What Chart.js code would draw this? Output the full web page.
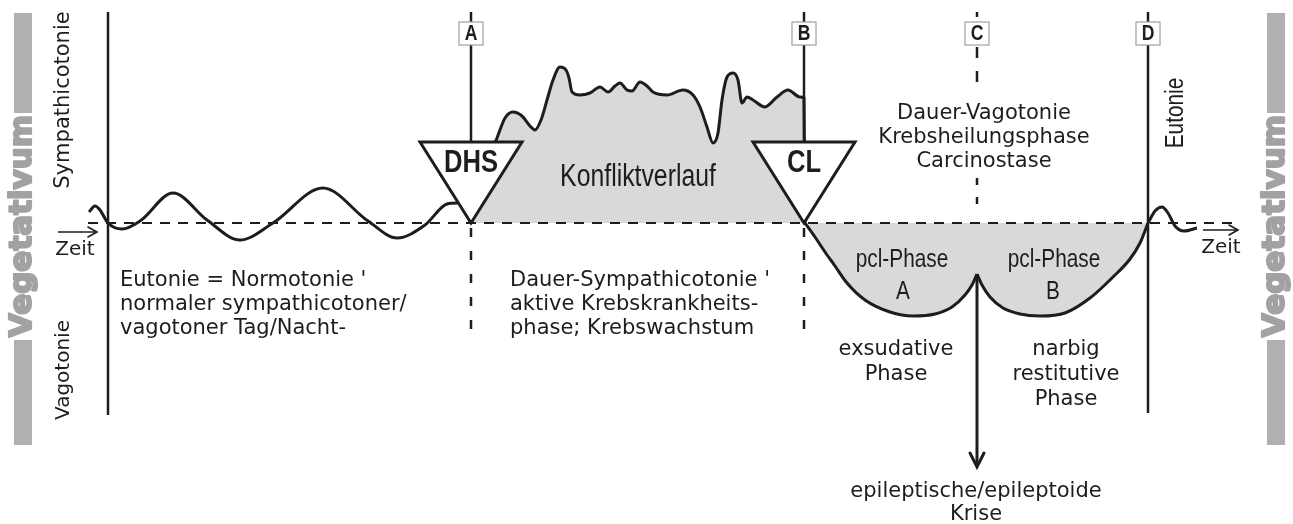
<!DOCTYPE html>
<html>
<head>
<meta charset="utf-8">
<title>Vegetativum</title>
<script src="https://cdn.jsdelivr.net/npm/chart.js"></script>
<style>
    html, body { margin: 0; padding: 0; background: #fff; }
    canvas { display: block; }
</style>
</head>
<body>
<canvas id="chart" width="1293" height="524"></canvas>
<script>
// x = time, y = vegetative tone (0 = normotonia, + sympathicotonia, - vagotonia)
const startTime = 108;
const phaseMarkers = ['A', 'B', 'C', 'D'];
const phaseTimes = [471, 804, 977, 1148];

// normal day/night rhythm before the DHS
const eutoniaX = [89, 95, 100, 108, 122, 140, 173, 207, 240, 273, 323, 368, 397, 425, 447, 458, 471];
const eutoniaY = [11, 17, 13, 0, -6, 2, 30, 3, -17, 0, 35, 2, -15, -2, 19, 20, 0];

// conflict-active phase (DHS -> CL)
const conflictX = [471, 488, 497, 505, 513, 522, 530, 535, 541, 547, 553, 560, 566, 569, 572, 580, 590, 600,
    608, 615, 620, 627, 632, 640, 647, 653, 667, 683, 693, 700, 707, 713, 718, 722, 727, 733, 738, 742,
    747, 753, 765, 777, 788, 800, 804, 805];
const conflictY = [0, 63, 85, 105, 111, 107, 97, 93, 103, 123, 143, 156, 153, 145, 131, 128, 130, 136,
    131, 137, 140, 133, 132, 141, 137, 131, 128, 133, 128, 116, 96, 80, 90, 123, 146, 150, 143, 120,
    126, 123, 116, 126, 133, 126, 125, 0];

// healing phase A (CL -> epileptic crisis)
const healingAX = [805, 815, 825, 835, 847, 865, 890, 913, 935, 952, 965, 972, 977];
const healingAY = [0, -14, -29, -43, -60, -77, -89, -93, -91, -84, -72, -62, -51];

// healing phase B (crisis -> end of healing)
const healingBX = [977, 982, 990, 1003, 1020, 1040, 1065, 1090, 1113, 1130, 1140, 1148];
const healingBY = [-51, -62, -74, -85, -91, -93, -90, -75, -54, -36, -20, 0];

// back to normal rhythm
const afterX = [1148, 1155, 1162, 1168, 1175, 1184, 1197];
const afterY = [0, 12, 16, 10, -3, -8, -5];

const baselineX = [88, 1232];
const baselineY = [0, 0];

const eutoniaText = ["Eutonie = Normotonie '", 'normaler sympathicotoner/', 'vagotoner Tag/Nacht-'];
const conflictText = ["Dauer-Sympathicotonie '", 'aktive Krebskrankheits-', 'phase; Krebswachstum'];
const healingText = ['Dauer-Vagotonie', 'Krebsheilungsphase', 'Carcinostase'];
const exsudText = ['exsudative', 'Phase'];
const narbText = ['narbig', 'restitutive', 'Phase'];
const crisisText = ['epileptische/epileptoide', 'Krise'];

const ink = '#1d1d1d';
const shade = '#d9d9d9';
const sideGray = '#b0b0b0';
const bodyFont = '"DejaVu Sans", sans-serif';
const narrowFont = '"Liberation Sans", Arial, sans-serif';

function points(xs, ys) {
    return xs.map((x, i) => ({ x: x, y: ys[i] }));
}

function curve(label, xs, ys, filled) {
    return {
        label: label,
        data: points(xs, ys),
        borderColor: ink,
        borderWidth: 3,
        backgroundColor: shade,
        fill: filled ? 'origin' : false,
        cubicInterpolationMode: 'monotone',
        pointRadius: 0,
        order: 1
    };
}

function strokeLine(ctx, x0, y0, x1, y1, width, dash) {
    ctx.save();
    ctx.strokeStyle = ink;
    ctx.lineWidth = width;
    ctx.setLineDash(dash || []);
    ctx.beginPath();
    ctx.moveTo(x0, y0);
    ctx.lineTo(x1, y1);
    ctx.stroke();
    ctx.restore();
}

function arrowHead(ctx, x, y, dx, dy, len, spread, width) {
    // (dx, dy) is the unit direction the arrow points to
    const px = -dy, py = dx;
    ctx.save();
    ctx.strokeStyle = ink;
    ctx.lineWidth = width;
    ctx.lineCap = 'round';
    ctx.beginPath();
    ctx.moveTo(x - dx * len + px * spread, y - dy * len + py * spread);
    ctx.lineTo(x, y);
    ctx.lineTo(x - dx * len - px * spread, y - dy * len - py * spread);
    ctx.stroke();
    ctx.restore();
}

function label(ctx, str, x, y, opt) {
    opt = opt || {};
    ctx.save();
    ctx.fillStyle = opt.color || ink;
    ctx.font = opt.font || ('21px ' + bodyFont);
    ctx.textAlign = opt.align || 'center';
    ctx.textBaseline = opt.baseline || 'alphabetic';
    ctx.translate(x, y);
    if (opt.rotate) ctx.rotate(opt.rotate);
    if (opt.squeeze) ctx.scale(opt.squeeze, 1);
    ctx.fillText(str, 0, 0);
    if (opt.heavy) {
        ctx.strokeStyle = opt.color || ink;
        ctx.lineWidth = opt.heavy;
        ctx.lineJoin = 'round';
        ctx.strokeText(str, 0, 0);
    }
    ctx.restore();
}

const diagramPlugin = {
    id: 'diagram',
    afterDatasetsDraw(chart) {
        const ctx = chart.ctx;
        const X = v => chart.scales.x.getPixelForValue(v);
        const Y = v => chart.scales.y.getPixelForValue(v);
        const [tA, tB, tC, tD] = phaseTimes;

        // vertical phase lines
        strokeLine(ctx, X(startTime), Y(211), X(startTime), Y(-192), 2.5);
        strokeLine(ctx, X(tD), Y(211), X(tD), Y(-190), 2.5);
        strokeLine(ctx, X(tA), Y(211), X(tA), Y(81), 2.5);
        strokeLine(ctx, X(tB), Y(211), X(tB), Y(81), 2.5);
        strokeLine(ctx, X(tA), Y(-5), X(tA), Y(-118), 2.5, [9, 14]);
        strokeLine(ctx, X(tB), Y(-5), X(tB), Y(-118), 2.5, [9, 14]);
        strokeLine(ctx, X(tC), Y(211), X(tC), Y(206), 2.5);
        strokeLine(ctx, X(tC), Y(176), X(tC), Y(128), 2.5, [11, 13]);
        strokeLine(ctx, X(tC), Y(45), X(tC), Y(8), 2.5, [7, 12]);

        // DHS and CL triangles
        [[tA, 'DHS'], [tB, 'CL']].forEach(([t, name]) => {
            ctx.save();
            ctx.fillStyle = '#fff';
            ctx.strokeStyle = ink;
            ctx.lineWidth = 3;
            ctx.lineJoin = 'miter';
            ctx.beginPath();
            ctx.moveTo(X(t - 51), Y(81));
            ctx.lineTo(X(t + 51), Y(81));
            ctx.lineTo(X(t), Y(0));
            ctx.closePath();
            ctx.fill();
            ctx.stroke();
            ctx.restore();
            label(ctx, name, X(t), Y(60), { font: 'bold 32px ' + narrowFont, baseline: 'middle', squeeze: 0.8 });
        });

        // phase marker boxes
        phaseMarkers.forEach((m, i) => {
            const x = X(phaseTimes[i]);
            ctx.save();
            ctx.fillStyle = '#fff';
            ctx.strokeStyle = '#a0a0a0';
            ctx.lineWidth = 1.2;
            ctx.fillRect(x - 12, Y(201), 24, 23);
            ctx.strokeRect(x - 12, Y(201), 24, 23);
            ctx.restore();
            label(ctx, m, x, Y(189), { font: 'bold 22px ' + narrowFont, baseline: 'middle', squeeze: 0.8 });
        });

        // phase captions
        label(ctx, 'Konfliktverlauf', X(638), Y(46), { font: '31px ' + narrowFont, baseline: 'middle', squeeze: 0.8 });
        label(ctx, 'pcl-Phase', X(902), Y(-37), { font: '26px ' + narrowFont, baseline: 'middle', squeeze: 0.8 });
        label(ctx, 'A', X(903), Y(-69), { font: '26px ' + narrowFont, baseline: 'middle', squeeze: 0.8 });
        label(ctx, 'pcl-Phase', X(1054), Y(-37), { font: '26px ' + narrowFont, baseline: 'middle', squeeze: 0.8 });
        label(ctx, 'B', X(1053), Y(-69), { font: '26px ' + narrowFont, baseline: 'middle', squeeze: 0.8 });

        eutoniaText.forEach((s, i) => label(ctx, s, X(120), Y(-63 - 24 * i), { align: 'left' }));
        conflictText.forEach((s, i) => label(ctx, s, X(510), Y(-63 - 24 * i), { align: 'left' }));
        healingText.forEach((s, i) => label(ctx, s, X(984), Y(111 - 24 * i) + 7));
        exsudText.forEach((s, i) => label(ctx, s, X(896), Y(-132 - 25 * i)));
        narbText.forEach((s, i) => label(ctx, s, X(1066), Y(-132 - 25 * i)));
        crisisText.forEach((s, i) => label(ctx, s, X(976), Y(-274 - 23 * i)));

        // crisis arrow
        strokeLine(ctx, X(tC), Y(-51), X(tC), Y(-243), 3);
        arrowHead(ctx, X(tC), Y(-244), 0, 1, 14, 7, 3);

        // axis labels
        label(ctx, 'Sympathicotonie', X(64), Y(123), { font: '21px ' + bodyFont, baseline: 'middle', rotate: -Math.PI / 2 });
        label(ctx, 'Vagotonie', X(64), Y(-147), { font: '20px ' + bodyFont, baseline: 'middle', rotate: -Math.PI / 2 });
        label(ctx, 'Eutonie', X(1176), Y(110), { font: '26px ' + narrowFont, baseline: 'middle', rotate: -Math.PI / 2, squeeze: 0.8 });

        // time arrows
        strokeLine(ctx, X(58), Y(-9), X(96), Y(-9), 1.6);
        arrowHead(ctx, X(97), Y(-9), 1, 0, 9, 5, 1.6);
        label(ctx, 'Zeit', X(75), Y(-27), { font: '20px ' + bodyFont, baseline: 'middle' });
        strokeLine(ctx, X(1203), Y(-7), X(1237), Y(-7), 1.6);
        arrowHead(ctx, X(1238), Y(-7), 1, 0, 9, 5, 1.6);
        label(ctx, 'Zeit', X(1221), Y(-25), { font: '20px ' + bodyFont, baseline: 'middle' });

        // side bands "Vegetativum"
        [23, 1276].forEach(cx => {
            ctx.save();
            ctx.fillStyle = sideGray;
            ctx.fillRect(X(cx) - 9, Y(210), 18, Y(110) - Y(210));
            ctx.fillRect(X(cx) - 9, Y(-117), 18, Y(-222) - Y(-117));
            ctx.restore();
            label(ctx, 'Vegetativum', X(cx), Y(-3), {
                font: 'bold 31px ' + bodyFont, baseline: 'middle',
                rotate: -Math.PI / 2, color: '#a2a2a2', heavy: 2.2
            });
        });
    }
};

new Chart(
    document.getElementById('chart'),
    {
        type: 'line',
        data: {
            datasets: [
                {
                    label: 'Nulllinie',
                    data: points(baselineX, baselineY),
                    borderColor: ink,
                    borderWidth: 2,
                    borderDash: [10, 8],
                    pointRadius: 0,
                    fill: false,
                    order: 0
                },
                curve('Eutonie', eutoniaX, eutoniaY, false),
                curve('Konfliktverlauf', conflictX, conflictY, true),
                curve('pcl-Phase A', healingAX, healingAY, true),
                curve('pcl-Phase B', healingBX, healingBY, true),
                curve('Eutonie danach', afterX, afterY, false)
            ]
        },
        options: {
            responsive: false,
            animation: false,
            layout: { padding: 0 },
            plugins: {
                legend: { display: false },
                tooltip: { enabled: false }
            },
            scales: {
                x: { type: 'linear', min: 0, max: 1293, display: false },
                y: { type: 'linear', min: -301, max: 223, display: false }
            }
        },
        plugins: [diagramPlugin]
    }
);
</script>
</body>
</html>
